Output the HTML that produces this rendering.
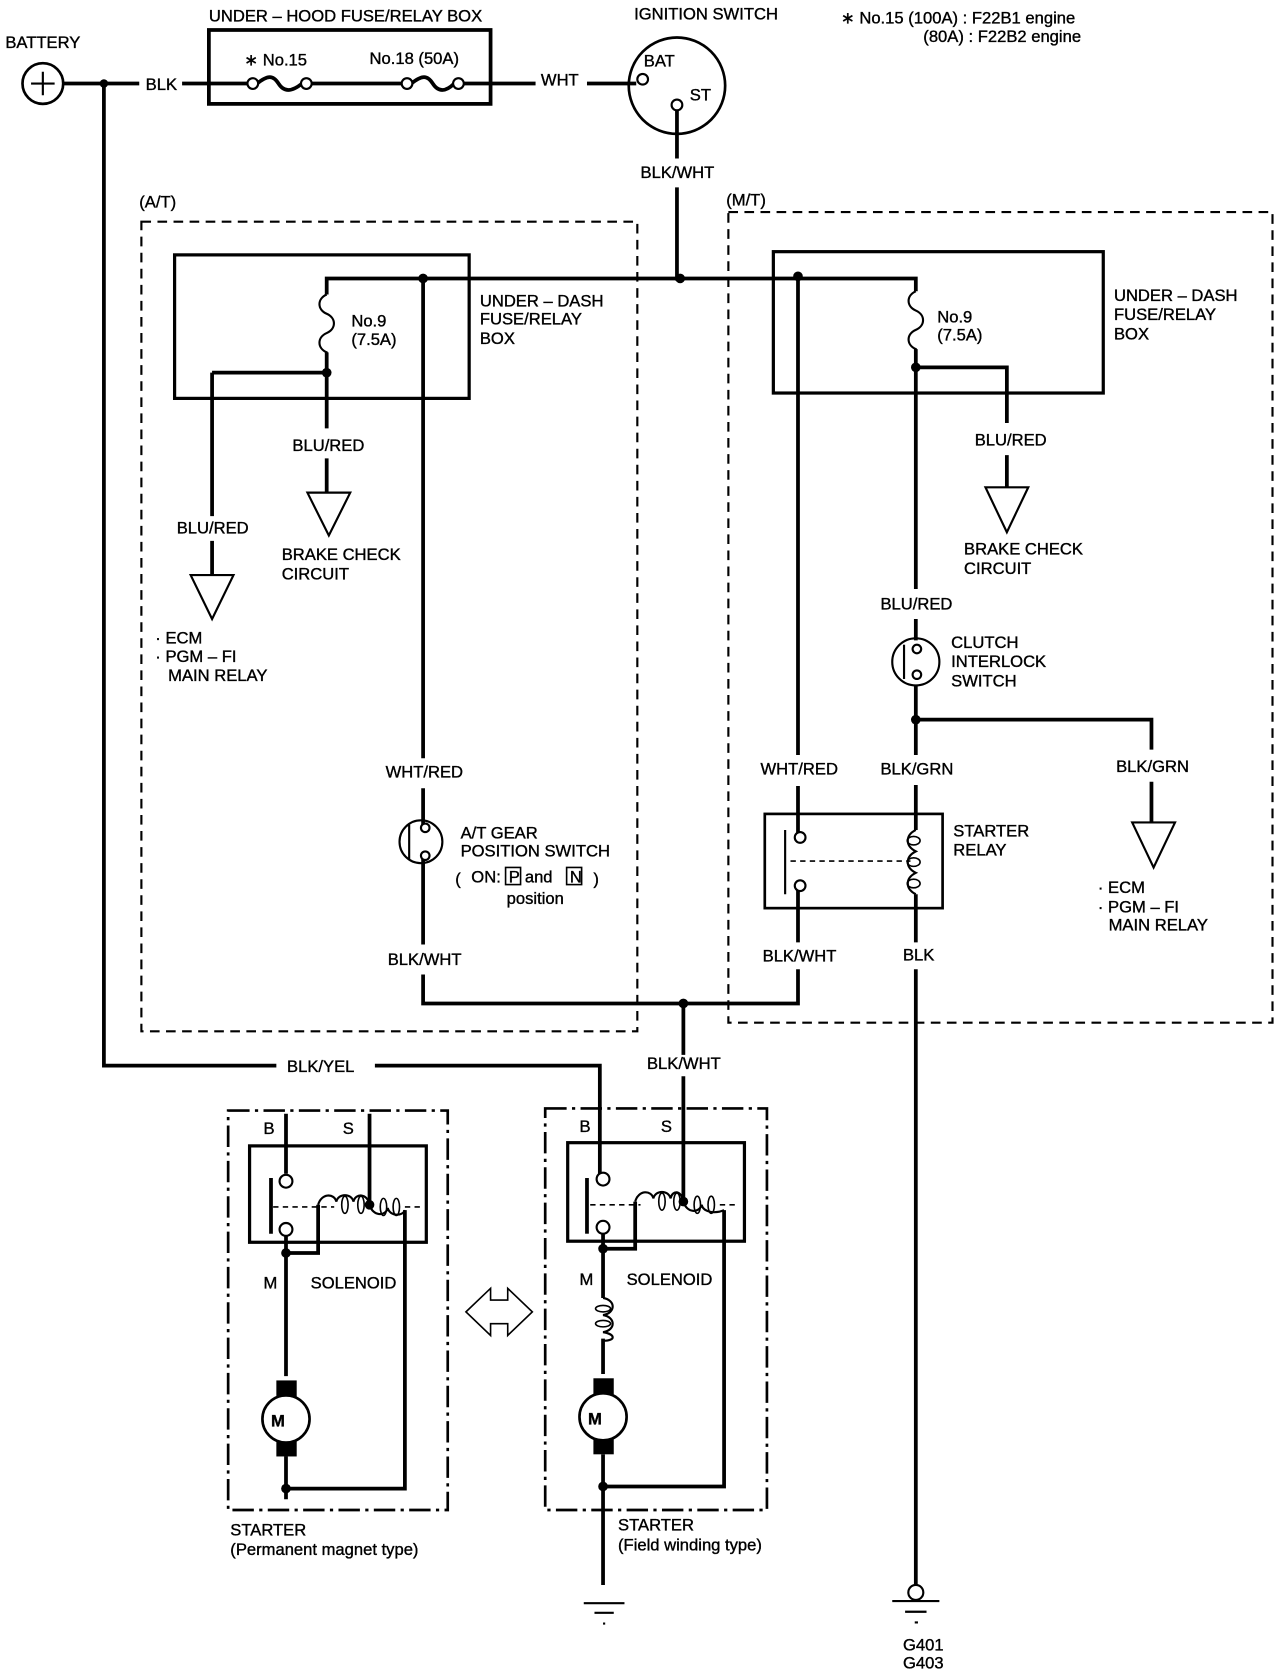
<!DOCTYPE html>
<html><head><meta charset="utf-8"><style>
html,body{margin:0;padding:0;background:#fff}
svg{display:block}
text{font-family:"Liberation Sans Narrow","Liberation Sans",sans-serif;font-size:15.5px;fill:#000;stroke:#000;stroke-width:0.35}
</style></head><body>
<svg width="1280" height="1676" viewBox="0 0 1195 1565" preserveAspectRatio="none" xmlns="http://www.w3.org/2000/svg">
<g fill="none" stroke="#000" stroke-width="3.5">
<circle cx="40" cy="78" r="19" stroke-width="2.5"/>
<path d="M29 78H51M40 67V89" stroke-width="2"/>
<path d="M59 78H130M170 78H232M240 78C250 70 255 70 260 78S272 86 282 78M290 78H376M384 78C394 70 399 70 404 78S416 86 424 78M432 78H500M548 78H594"/>
<rect x="195" y="28" width="263" height="69"/>
<circle cx="236" cy="78" r="5" fill="#fff" stroke-width="2"/><circle cx="286" cy="78" r="5" fill="#fff" stroke-width="2"/>
<circle cx="380" cy="78" r="5" fill="#fff" stroke-width="2"/><circle cx="428" cy="78" r="5" fill="#fff" stroke-width="2"/>
<circle cx="632" cy="80" r="45" stroke-width="2.5"/>
<circle cx="600" cy="74" r="5" fill="#fff" stroke-width="2"/>
<circle cx="632" cy="98" r="5" fill="#fff" stroke-width="2"/>
<path d="M632 103V148M632 175V262"/>
<path d="M97 78V995H258M350 995H560V1098"/>
<rect x="132" y="207" width="463" height="756" stroke-width="2" stroke-dasharray="9 6"/>
<rect x="680" y="198" width="508" height="757" stroke-width="2" stroke-dasharray="9 6"/>
<rect x="163" y="238" width="275" height="134" stroke-width="3"/>
<rect x="722" y="235" width="308" height="132" stroke-width="3"/>
<path d="M305 275V260H855V272"/>
<path d="M305 275C296 279 296 289 305 293C314 297 314 307 305 311C296 315 296 325 305 329V348" stroke-width="2"/>
<path d="M305 329V400M305 428V460M198 348H305M198 348V482M198 505V537"/>
<path d="M287 460H327L307 500Z" stroke-width="2"/>
<path d="M178 537H218L198 578Z" stroke-width="2"/>
<path d="M395 260V708M395 736V770M395 802V882M395 910V937H745V905M638 937V985M638 1005V1122M745 880V830M745 260V705M745 734V778"/>
<circle cx="393" cy="786" r="20" stroke-width="2"/>
<path d="M382 770V803" stroke-width="2"/>
<circle cx="397" cy="773" r="4" fill="#fff" stroke-width="2"/><circle cx="397" cy="799" r="4" fill="#fff" stroke-width="2"/>
<path d="M855 272C846 276 846 286 855 290C864 294 864 304 855 308C846 312 846 322 855 326V343" stroke-width="2"/>
<path d="M855 326V550M855 578V598M855 640V705M855 733V775M855 835V880M855 905V1480M855 343H940V395M940 425V455M855 672H1075V700M1075 730V768"/>
<path d="M920 455H960L940 497Z" stroke-width="2"/>
<path d="M1057 768H1097L1077 810Z" stroke-width="2"/>
<circle cx="855" cy="618" r="22" stroke-width="2"/>
<path d="M844 602V634" stroke-width="2"/>
<circle cx="856" cy="606" r="4" fill="#fff" stroke-width="2"/><circle cx="856" cy="630" r="4" fill="#fff" stroke-width="2"/>
<rect x="714" y="760" width="166" height="88" stroke-width="2.5"/>
<path d="M733 775V835" stroke-width="2"/>
<path d="M738 804H850" stroke-width="1.5" stroke-dasharray="5 4"/>
<circle cx="747" cy="782" r="5" fill="#fff" stroke-width="2"/><circle cx="747" cy="827" r="5" fill="#fff" stroke-width="2"/>
<path d="M855 775C845 780 845 790 855 795C845 800 845 810 855 815C845 820 845 830 855 835" stroke-width="2"/>
<ellipse cx="853" cy="785" rx="6" ry="4" stroke-width="1.5"/><ellipse cx="853" cy="805" rx="6" ry="4" stroke-width="1.5"/><ellipse cx="853" cy="825" rx="6" ry="4" stroke-width="1.5"/>
<circle cx="855" cy="1487" r="7" stroke-width="2"/>
<path d="M833 1495H877M845 1505H865M854 1515H857" stroke-width="2"/>
<rect x="213" y="1037" width="205" height="373" stroke-width="2.5" stroke-dasharray="20 5 3 5"/>
<rect x="233" y="1070" width="165" height="90" stroke-width="3"/>
<path d="M267 1040V1096M345 1040V1125M253 1100V1152" />
<path d="M255 1127H312M378 1127H394" stroke-width="1.5" stroke-dasharray="5 4"/>
<circle cx="267" cy="1103" r="6" fill="#fff" stroke-width="2"/><circle cx="267" cy="1148" r="6" fill="#fff" stroke-width="2"/>
<path d="M267 1154V1285M267 1360V1400M267 1170H297V1125M378 1130V1390H267"/>
<path d="M297 1125C300 1114 312 1114 314 1122C316 1114 328 1114 330 1122C332 1114 343 1114 345 1125C348 1136 360 1136 362 1128C364 1136 376 1136 378 1130" stroke-width="2"/>
<ellipse cx="322" cy="1125" rx="3" ry="8" stroke-width="1.5"/><ellipse cx="337" cy="1125" rx="3" ry="8" stroke-width="1.5"/><ellipse cx="358" cy="1127" rx="3" ry="8" stroke-width="1.5"/><ellipse cx="370" cy="1127" rx="3" ry="8" stroke-width="1.5"/>
<circle cx="267" cy="1325" r="22" stroke-width="2.5"/>
<rect x="509" y="1035" width="207" height="375" stroke-width="2.5" stroke-dasharray="20 5 3 5"/>
<rect x="530" y="1067" width="165" height="92" stroke-width="3"/>
<path d="M548 1100V1152"/>
<path d="M551 1125H598M672 1125H690" stroke-width="1.5" stroke-dasharray="5 4"/>
<circle cx="563" cy="1101" r="6" fill="#fff" stroke-width="2"/><circle cx="563" cy="1146" r="6" fill="#fff" stroke-width="2"/>
<path d="M563 1152V1212M563 1250V1283M563 1358V1480M563 1166H593V1122M676 1130V1388H563"/>
<path d="M563 1212C575 1214 575 1226 563 1228C575 1230 575 1242 563 1244C575 1246 575 1252 563 1252" stroke-width="2"/>
<ellipse cx="563" cy="1222" rx="7" ry="3" stroke-width="1.5"/><ellipse cx="563" cy="1236" rx="7" ry="3" stroke-width="1.5"/>
<path d="M593 1122C596 1111 608 1111 610 1119C612 1111 624 1111 626 1119C628 1111 636 1111 638 1122C641 1133 653 1133 655 1125C657 1133 669 1133 676 1130" stroke-width="2"/>
<ellipse cx="618" cy="1122" rx="3" ry="8" stroke-width="1.5"/><ellipse cx="632" cy="1122" rx="3" ry="8" stroke-width="1.5"/><ellipse cx="651" cy="1125" rx="3" ry="8" stroke-width="1.5"/><ellipse cx="664" cy="1125" rx="3" ry="8" stroke-width="1.5"/>
<circle cx="563" cy="1323" r="22" stroke-width="2.5"/>
<path d="M545 1497H583M555 1506H573M563 1516H565" stroke-width="2"/>
<path d="M435 1225L458 1203V1214H474V1203L497 1225L474 1247V1236H458V1247Z" stroke-width="1.5"/>
</g>
<g fill="#000">
<circle cx="97" cy="78" r="4"/><circle cx="395" cy="260" r="4.5"/><circle cx="635" cy="260" r="4.5"/><circle cx="745" cy="258" r="4.5"/>
<circle cx="305" cy="348" r="4.5"/><circle cx="855" cy="343" r="4.5"/><circle cx="855" cy="672" r="4.5"/><circle cx="638" cy="937" r="4.5"/>
<circle cx="345" cy="1125" r="4.5"/><circle cx="638" cy="1122" r="4.5"/><circle cx="267" cy="1170" r="4.5"/><circle cx="563" cy="1166" r="4.5"/>
<circle cx="267" cy="1390" r="4.5"/><circle cx="563" cy="1388" r="4.5"/>
<rect x="258" y="1289" width="19" height="15"/><rect x="258" y="1346" width="19" height="14"/>
<rect x="554" y="1287" width="19" height="15"/><rect x="554" y="1344" width="19" height="14"/>
</g>
<g>
<text x="5" y="45">BATTERY</text>
<text x="195" y="20">UNDER – HOOD FUSE/RELAY BOX</text>
<text x="228" y="61">∗ No.15</text>
<text x="345" y="60">No.18 (50A)</text>
<text x="136" y="84">BLK</text>
<text x="505" y="80">WHT</text>
<text x="592" y="18">IGNITION SWITCH</text>
<text x="601" y="62">BAT</text>
<text x="644" y="94" font-size="14">ST</text>
<text x="598" y="166">BLK/WHT</text>
<text x="785" y="22">∗ No.15 (100A) : F22B1 engine</text>
<text x="862" y="39">(80A) : F22B2 engine</text>
<text x="130" y="194">(A/T)</text>
<text x="678" y="192">(M/T)</text>
<text x="328" y="305">No.9</text><text x="328" y="322">(7.5A)</text>
<text x="448" y="286">UNDER – DASH</text><text x="448" y="303">FUSE/RELAY</text><text x="448" y="321">BOX</text>
<text x="273" y="421">BLU/RED</text>
<text x="263" y="523">BRAKE CHECK</text><text x="263" y="541">CIRCUIT</text>
<text x="165" y="498">BLU/RED</text>
<text x="145" y="601">· ECM</text><text x="145" y="618">· PGM – FI</text><text x="157" y="636">MAIN RELAY</text>
<text x="360" y="726">WHT/RED</text>
<text x="430" y="783">A/T GEAR</text><text x="430" y="800">POSITION SWITCH</text>
<text x="425" y="826" font-size="22">(</text><text x="440" y="824">ON:</text>
<rect x="472" y="810" width="14" height="16" fill="none" stroke="#000" stroke-width="1.5"/><text x="475" y="824">P</text>
<text x="490" y="824">and</text>
<rect x="529" y="810" width="14" height="16" fill="none" stroke="#000" stroke-width="1.5"/><text x="532" y="824">N</text>
<text x="554" y="826" font-size="22">)</text>
<text x="473" y="844">position</text>
<text x="362" y="901">BLK/WHT</text>
<text x="875" y="301">No.9</text><text x="875" y="318">(7.5A)</text>
<text x="1040" y="281">UNDER – DASH</text><text x="1040" y="299">FUSE/RELAY</text><text x="1040" y="317">BOX</text>
<text x="910" y="416">BLU/RED</text>
<text x="900" y="518">BRAKE CHECK</text><text x="900" y="536">CIRCUIT</text>
<text x="822" y="569">BLU/RED</text>
<text x="888" y="605">CLUTCH</text><text x="888" y="623">INTERLOCK</text><text x="888" y="641">SWITCH</text>
<text x="710" y="723">WHT/RED</text>
<text x="822" y="723">BLK/GRN</text>
<text x="1042" y="721">BLK/GRN</text>
<text x="890" y="781">STARTER</text><text x="890" y="799">RELAY</text>
<text x="1025" y="834">· ECM</text><text x="1025" y="852">· PGM – FI</text><text x="1035" y="869">MAIN RELAY</text>
<text x="712" y="898">BLK/WHT</text>
<text x="843" y="897">BLK</text>
<text x="268" y="1001">BLK/YEL</text>
<text x="604" y="998">BLK/WHT</text>
<text x="246" y="1059">B</text><text x="320" y="1059">S</text>
<text x="541" y="1057">B</text><text x="617" y="1057">S</text>
<text x="246" y="1203">M</text><text x="290" y="1203">SOLENOID</text>
<text x="541" y="1200">M</text><text x="585" y="1200">SOLENOID</text>
<text x="253" y="1332" font-size="18" font-weight="bold">M</text>
<text x="549" y="1330" font-size="18" font-weight="bold">M</text>
<text x="215" y="1434">STARTER</text><text x="215" y="1452" font-size="15">(Permanent magnet type)</text>
<text x="577" y="1429">STARTER</text><text x="577" y="1448" font-size="15">(Field winding type)</text>
<text x="843" y="1541">G401</text><text x="843" y="1558">G403</text>
</g>
</svg>
</body></html>
